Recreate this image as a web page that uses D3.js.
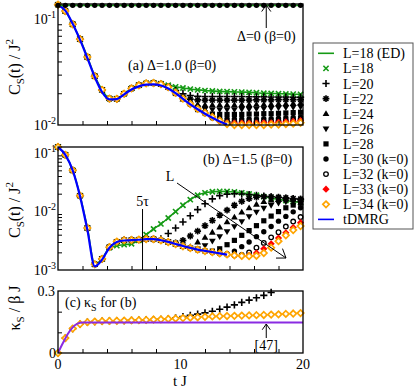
<!DOCTYPE html>
<html>
<head>
<meta charset="utf-8">
<script src="https://cdn.jsdelivr.net/npm/d3@7"></script>
<style>
body { margin:0; background:#fff; }
svg { display:block; }
</style>
</head>
<body>
<script>
// time grid of the markers (t J)
var times = [0,0.6,1.2,1.8,2.4,3,3.6,4.2,4.8,5.4,6,6.6,7.2,7.8,8.4,9,9.6,10.2,10.8,11.4,12,12.6,13.2,13.8,14.4,15,15.6,16.2,16.8,17.4,18,18.6,19.2,19.8];
var sizes = [18,20,22,24,26,28,30,32,33,34];
var legendLabels = ["L=18 (ED)","L=18","L=20","L=22","L=24","L=26","L=28","L=30 (k=0)","L=32 (k=0)","L=33 (k=0)","L=34 (k=0)","tDMRG"];

// (a) Delta=1.0 : common early part, then each L leaves it at aStart
var aBase = [0.138,0.120,0.090,0.065,0.044,0.029,0.0215,0.0178,0.0177,0.0198,0.0222,0.0238,0.0248,0.0250,0.0244,0.0228,0.0202,0.0178,0.0158,0.0142,0.0130,0.0119,0.0110,0.0102];
var aStart = [14,15,16,17,18,19,20,21,22,23];
var aL18 = [0.0246,0.0238,0.0230,0.0224,0.0219,0.0215,0.0212,0.0210,0.0208,0.0207,0.0206,0.0205,0.0204,0.0202,0.0200,0.0199,0.0198,0.0197,0.0196,0.0195];
var aL20 = [0.0230,0.0212,0.0198,0.0190,0.0187,0.0186,0.0186,0.0186,0.0186,0.0186,0.0186,0.0185,0.0185,0.0185,0.0184,0.0184,0.0184,0.0183,0.0183];
var aL22 = [0.0200,0.0184,0.0176,0.0173,0.0172,0.0172,0.0172,0.0172,0.0172,0.0172,0.0172,0.0173,0.0173,0.0173,0.0174,0.0174,0.0174,0.0174];
var aL24 = [0.0176,0.0162,0.0157,0.0155,0.0155,0.0155,0.0155,0.0155,0.0156,0.0156,0.0157,0.0157,0.0158,0.0159,0.0159,0.0160,0.0161];
var aL26 = [0.0156,0.0145,0.0141,0.0140,0.0140,0.0140,0.0140,0.0141,0.0141,0.0142,0.0143,0.0144,0.0145,0.0146,0.0147,0.0148];
var aL28 = [0.0140,0.0131,0.0127,0.0126,0.0126,0.0126,0.0126,0.0127,0.0127,0.0128,0.0128,0.0129,0.0130,0.0131,0.0132];
var aL30 = [0.0128,0.0120,0.0116,0.0115,0.0114,0.0114,0.0114,0.0114,0.0115,0.0115,0.0116,0.0117,0.0118,0.0119];
var aL32 = [0.0117,0.0111,0.0108,0.0107,0.0107,0.0107,0.0107,0.0108,0.0108,0.0109,0.0110,0.0111,0.0113];
var aL33 = [0.0108,0.0105,0.0104,0.0104,0.0104,0.0104,0.0105,0.0105,0.0106,0.0107,0.0108,0.0110];
var aL34 = [0.0102,0.0100,0.0100,0.0100,0.0100,0.0100,0.0101,0.0101,0.0102,0.0103,0.0105];
var aTdmrg = [0.138,0.121,0.091,0.064,0.043,0.0285,0.0205,0.0175,0.0176,0.0195,0.0217,0.0232,0.0241,0.0243,0.0237,0.0222,0.0200,0.0177,0.0157,0.0141,0.0128,0.0117,0.0108,0.0101];
var aDelta0 = 0.136;

// (b) Delta=1.5
var bBase = [0.125,0.092,0.050,0.0185,0.0052,0.00125,0.00155,0.00245,0.00305,0.00322,0.00325,0.00330,0.00338,0.00335,0.00320,0.00300,0.00276,0.00254,0.00236,0.00222,0.00211,0.00201,0.00192,0.00184,0.00178,0.00174,0.00172];
var bStart = [7,14,16,18,19,21,23,25,26,27];
var bL18 = [0.0024,0.0026,0.0027,0.0028,0.0032,0.0040,0.0050,0.0061,0.0077,0.0099,0.0127,0.0158,0.0188,0.0207,0.0216,0.0219,0.0218,0.0214,0.0207,0.0198,0.0188,0.0178,0.0168,0.0160,0.0153,0.0147,0.0142];
var bL20 = [0.0034,0.0042,0.0052,0.0066,0.0084,0.0107,0.0135,0.0163,0.0185,0.0196,0.0199,0.0197,0.0193,0.0188,0.0182,0.0177,0.0172,0.0167,0.0163,0.0160];
var bL22 = [0.0029,0.0032,0.0038,0.0046,0.0057,0.0070,0.0086,0.0105,0.0127,0.0148,0.0165,0.0175,0.0178,0.0177,0.0174,0.0170,0.0166,0.0162];
var bL24 = [0.0025,0.0030,0.0036,0.0044,0.0054,0.0066,0.0080,0.0097,0.0115,0.0132,0.0146,0.0155,0.0160,0.0161,0.0160,0.0158];
var bL26 = [0.0023,0.0026,0.0031,0.0037,0.0045,0.0055,0.0067,0.0081,0.0097,0.0113,0.0127,0.0138,0.0145,0.0149,0.0150];
var bL28 = [0.0021,0.0023,0.0027,0.0032,0.0039,0.0047,0.0057,0.0069,0.0083,0.0099,0.0115,0.0128,0.0138];
var bL30 = [0.0019,0.0021,0.0025,0.0030,0.0037,0.0045,0.0055,0.0068,0.0082,0.0098,0.0115];
var bL32 = [0.0018,0.0020,0.0024,0.0029,0.0036,0.0044,0.0055,0.0067,0.0080];
var bL33 = [0.00178,0.00195,0.0023,0.0028,0.0035,0.0043,0.0053,0.0064];
var bL34 = [0.00175,0.00195,0.0024,0.0031,0.0039,0.0048,0.0056];
var bTdmrg = [0.125,0.092,0.050,0.0180,0.0048,0.00115,0.00150,0.00240,0.00300,0.00318,0.00322,0.00328,0.00336,0.00336,0.00322,0.00302,0.00278,0.00256,0.00238,0.00223,0.00212,0.00202,0.00192,0.00183];

// (c) kappa_S for (b)
var cL34 = [0,0.072,0.118,0.140,0.149,0.152,0.154,0.155,0.156,0.157,0.158,0.159,0.160,0.162,0.163,0.165,0.167,0.169,0.171,0.173,0.175,0.177,0.178,0.179,0.180,0.181,0.182,0.183,0.184,0.186,0.187,0.189,0.191,0.193];
var cL20Start = 16;
var cL20 = [0.170,0.176,0.182,0.188,0.194,0.202,0.212,0.222,0.233,0.245,0.256,0.267,0.279,0.293];
var cTdmrgT = [0,0.4,0.8,1.2,1.6,2.0,5,10,15,20];
var cTdmrg = [0,0.048,0.092,0.124,0.142,0.147,0.147,0.147,0.147,0.147];

var green = "#159a15", blue = "#0000ff", orange = "#ffa500", purple = "#8a2be2";
var symTypes = ["x","+","*","tu","td","sq","ci","oc","rd","od"];
var serif = "'Liberation Serif','Times New Roman',Times,'Nimbus Roman','DejaVu Serif',serif";

var svg = d3.select("body").append("svg")
	.attr("width", 415)
	.attr("height", 388)
	.attr("font-family", serif)
	.style("font-family", serif);

var x = d3.scaleLinear().domain([0,20]).range([58,303]);
var yA = d3.scaleLog().domain([0.01,0.14]).range([125,4]);
var yB = d3.scaleLog().domain([0.001,0.125]).range([270,147]);
var yC = d3.scaleLinear().domain([0,0.3]).range([353,291]);

function join(base, start, tail) {
	var out = [];
	for (var k = 0; k < start; k++) out.push({t: times[k], v: base[k]});
	for (var j = 0; j < tail.length; j++) out.push({t: times[start+j], v: tail[j]});
	return out;
}

function drawSym(g, type, data) {
	var s = g.selectAll(null).data(data).enter();
	var el;
	if (type == "ci" || type == "oc") {
		el = s.append("circle").attr("r", type == "ci" ? 2.7 : 2.3)
			.attr("cx", function(d){ return d.x; }).attr("cy", function(d){ return d.y; })
			.attr("fill", type == "ci" ? "#000" : "#fff")
			.attr("stroke", type == "oc" ? "#000" : "none").attr("stroke-width", 1.3);
		return;
	}
	var paths = {
		"x": "M-2.6,-2.6L2.6,2.6M-2.6,2.6L2.6,-2.6",
		"+": "M-3.6,0H3.6M0,-3.6V3.6",
		"*": "M-3.4,0H3.4M0,-3.4V3.4M-2.4,-2.4L2.4,2.4M-2.4,2.4L2.4,-2.4",
		"tu": "M0,-3.4L3.4,2.4L-3.4,2.4Z",
		"td": "M0,3.4L3.4,-2.4L-3.4,-2.4Z",
		"sq": "M-2.6,-2.6H2.6V2.6H-2.6Z",
		"rd": "M0,-3.6L3.6,0L0,3.6L-3.6,0Z",
		"od": "M0,-3.2L3.2,0L0,3.2L-3.2,0Z"
	};
	el = s.append("path").attr("d", paths[type])
		.attr("transform", function(d){ return "translate(" + d.x + "," + d.y + ")"; });
	if (type == "x") el.attr("fill","none").attr("stroke", green).attr("stroke-width", 1.6);
	else if (type == "+" || type == "*") el.attr("fill","none").attr("stroke","#000").attr("stroke-width", 1.6);
	else if (type == "rd") el.attr("fill","#ff0000");
	else if (type == "od") el.attr("fill","#fff").attr("stroke", orange).attr("stroke-width", 1.7);
	else el.attr("fill","#000");
}

function frame(y, top, bottom, id) {
	svg.append("clipPath").attr("id", id).append("rect")
		.attr("x", 58).attr("y", top).attr("width", 245).attr("height", bottom - top);
}

function axes(y, top, bottom, majors, minors) {
	var gx = svg.append("g").attr("transform", "translate(0," + bottom + ")");
	gx.call(d3.axisBottom(x).tickValues([0,10,20]).tickSize(-8).tickSizeOuter(0).tickFormat(""));
	gx.call(d3.axisBottom(x).tickValues(x.ticks(10).filter(function(d){ return d % 10; })).tickSize(-4).tickSizeOuter(0).tickFormat(""));
	var gy = svg.append("g").attr("transform", "translate(58,0)");
	gy.call(d3.axisLeft(y).tickValues(majors).tickSize(-8).tickSizeOuter(0).tickFormat(""));
	gy.call(d3.axisLeft(y).tickValues(minors).tickSize(-4).tickSizeOuter(0).tickFormat(""));
	svg.selectAll(".domain").remove();
	svg.append("rect").attr("x", 58).attr("y", top).attr("width", 245).attr("height", bottom - top)
		.attr("fill", "none").attr("stroke", "#000").attr("stroke-width", 1.3);
}

function powLabel(y, v, ex) {
	var t = svg.append("text").attr("x", 56).attr("y", y(v) + 5).attr("text-anchor", "end").attr("font-size", 14);
	t.append("tspan").text("10");
	t.append("tspan").attr("font-size", 10).attr("dy", -6).text(ex);
}

var line = d3.line().x(function(d){ return x(d.t); }).curve(d3.curveMonotoneX);

function panel(y, top, bottom, id, series, ed, td) {
	frame(y, top, bottom, id);
	var g = svg.append("g");
	var lo = y.domain()[0], hi = y.domain()[1];
	g.append("path").datum(ed).attr("clip-path", "url(#" + id + ")")
		.attr("fill", "none").attr("stroke", green).attr("stroke-width", 1.6)
		.attr("d", line.y(function(d){ return y(d.v); }));
	series.forEach(function(s, i) {
		var pts = s.filter(function(d){ return d.v >= lo * 0.999 && d.v <= hi; })
			.map(function(d){ return {x: x(d.t), y: y(d.v)}; });
		drawSym(g, symTypes[i], pts);
	});
	g.append("path").datum(td).attr("clip-path", "url(#" + id + ")")
		.attr("fill", "none").attr("stroke", blue).attr("stroke-width", 2.2)
		.attr("d", line.y(function(d){ return y(d.v); }));
	return g;
}

// panel (a)
var aTails = [aL18,aL20,aL22,aL24,aL26,aL28,aL30,aL32,aL33,aL34];
var aSeries = aTails.map(function(tl, i){ return join(aBase, aStart[i], tl); });
var aTd = aTdmrg.map(function(v, k){ return {t: times[k], v: v}; });
var gA = panel(yA, 4, 125, "clipA", aSeries, aSeries[0], aTd);
// Delta = 0 curve
var d0 = times.map(function(t){ return {t: t, v: aDelta0}; });
gA.append("path").datum([{t:0, v:aDelta0}, {t:20, v:aDelta0}])
	.attr("fill", "none").attr("stroke", green).attr("stroke-width", 1.6)
	.attr("d", line.y(function(d){ return yA(d.v); }));
drawSym(gA, "ci", d0.map(function(d){ return {x: x(d.t), y: yA(d.v)}; }));
axes(yA, 4, 125, [0.01,0.1], yA.ticks().filter(function(d){ return Math.abs(Math.log10(d) % 1) > 1e-6; }));
powLabel(yA, 0.1, "-1");
powLabel(yA, 0.01, "-2");

// panel (b)
var bTails = [bL18,bL20,bL22,bL24,bL26,bL28,bL30,bL32,bL33,bL34];
var bSeries = bTails.map(function(tl, i){ return join(bBase, bStart[i], tl); });
var bTd = bTdmrg.map(function(v, k){ return {t: times[k], v: v}; });
panel(yB, 147, 270, "clipB", bSeries, bSeries[0], bTd);
axes(yB, 147, 270, [0.001,0.01,0.1], yB.ticks().filter(function(d){ return Math.abs(Math.log10(d) % 1) > 1e-6 && d < 0.125; }));
powLabel(yB, 0.1, "-1");
powLabel(yB, 0.01, "-2");
powLabel(yB, 0.001, "-3");

// panel (c)
var gC = svg.append("g");
frame(yC, 291, 353, "clipC");
var c34 = cL34.map(function(v, k){ return {t: times[k], v: v}; });
var c20 = join(cL34, cL20Start, cL20);
drawSym(gC, "+", c20.map(function(d){ return {x: x(d.t), y: yC(d.v)}; }));
drawSym(gC, "od", c34.map(function(d){ return {x: x(d.t), y: yC(d.v)}; }));
gC.append("path").datum(cTdmrgT.map(function(t, k){ return {t: t, v: cTdmrg[k]}; }))
	.attr("clip-path", "url(#clipC)")
	.attr("fill", "none").attr("stroke", purple).attr("stroke-width", 2)
	.attr("d", line.y(function(d){ return yC(d.v); }));
axes(yC, 291, 353, [0,0.3], [0.1,0.2]);
svg.append("text").attr("x", 55).attr("y", yC(0.3) + 5).attr("text-anchor", "end").attr("font-size", 14).text("0.3");
svg.append("text").attr("x", 56).attr("y", yC(0) + 5).attr("text-anchor", "end").attr("font-size", 14).text("0");
[0,10,20].forEach(function(v){
	svg.append("text").attr("x", x(v)).attr("y", 369).attr("text-anchor", "middle").attr("font-size", 14).text(v);
});

// axis titles
function cLabel(cy) {
	var t = svg.append("text").attr("transform", "translate(20," + cy + ") rotate(-90)")
		.attr("text-anchor", "middle").attr("font-size", 16);
	t.append("tspan").text("C");
	t.append("tspan").attr("font-size", 11).attr("dy", 4).text("S");
	t.append("tspan").attr("dy", -4).text("(t) / J");
	t.append("tspan").attr("font-size", 11).attr("dy", -7).text("2");
}
cLabel(67);
cLabel(210);
var kl = svg.append("text").attr("transform", "translate(20,308) rotate(-90)")
	.attr("text-anchor", "middle").attr("font-size", 16);
kl.append("tspan").text("κ");
kl.append("tspan").attr("font-size", 11).attr("dy", 4).text("S");
kl.append("tspan").attr("dy", -4).text(" / β J");
svg.append("text").attr("x", 180).attr("y", 386).attr("text-anchor", "middle").attr("font-size", 15).text("t J");

// annotations
function arrow(x1, y1, x2, y2, len) {
	var a = Math.atan2(y1 - y2, x1 - x2), w = 35 * Math.PI / 180;
	svg.append("path")
		.attr("d", "M" + x1 + "," + y1 + "L" + x2 + "," + y2 +
			"M" + (x2 + len * Math.cos(a - w)) + "," + (y2 + len * Math.sin(a - w)) +
			"L" + x2 + "," + y2 +
			"L" + (x2 + len * Math.cos(a + w)) + "," + (y2 + len * Math.sin(a + w)))
		.attr("fill", "none").attr("stroke", "#000").attr("stroke-width", 1);
}
function note(tx, ty, txt, anchor) {
	svg.append("text").attr("x", tx).attr("y", ty).attr("font-size", 14)
		.attr("text-anchor", anchor || "start").text(txt);
}
note(x(17), 41, "Δ=0 (β=0)", "middle");
arrow(x(17), 28, x(17), 5, 8);
note(128, 70, "(a) Δ=1.0 (β=0)");
note(203, 164, "(b) Δ=1.5 (β=0)");
note(170, 181, "L", "middle");
arrow(177, 183, 286, 258, 10);
note(x(6.9), 206, "5τ", "middle");
svg.append("line").attr("x1", x(6.9)).attr("x2", x(6.9)).attr("y1", 209).attr("y2", 270)
	.attr("stroke", "#000").attr("stroke-width", 1);
var cn = svg.append("text").attr("x", 65).attr("y", 307).attr("font-size", 14);
cn.append("tspan").text("(c) κ");
cn.append("tspan").attr("font-size", 10).attr("dy", 4).text("S");
cn.append("tspan").attr("dy", -4).text(" for (b)");
note(x(17), 350, "[47]", "middle");
arrow(x(17), 338, x(17), 324, 7);

// legend
var lg = svg.append("g");
lg.append("rect").attr("x", 313).attr("y", 43).attr("width", 100).attr("height", 186)
	.attr("fill", "#fff").attr("stroke", "#555").attr("stroke-width", 1);
legendLabels.forEach(function(lab, i){
	var yy = 53.3 + i * 15.1;
	if (i == 0 || i == legendLabels.length - 1) {
		lg.append("line").attr("x1", 318).attr("x2", 334).attr("y1", yy).attr("y2", yy)
			.attr("stroke", i == 0 ? green : blue).attr("stroke-width", 1.6);
	} else {
		drawSym(lg, symTypes[i - 1], [{x: 326, y: yy}]);
	}
	lg.append("text").attr("x", 343).attr("y", yy + 5).attr("font-size", 14).text(lab);
});
</script>
</body>
</html>
